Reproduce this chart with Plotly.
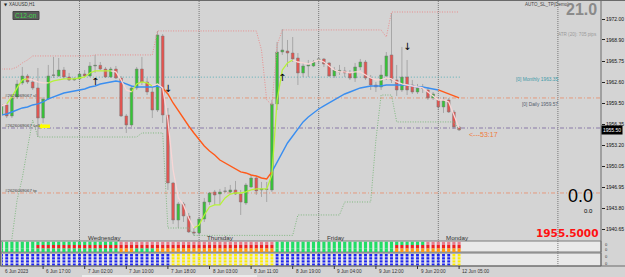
import plotly.graph_objects as go

# ---------------- data ----------------
time_labels = ["6 Jun 2023", "6 Jun 17:00", "7 Jun 02:00", "7 Jun 10:00", "7 Jun 18:00",
               "8 Jun 03:00", "8 Jun 11:00", "8 Jun 19:00", "9 Jun 04:00", "9 Jun 12:00",
               "9 Jun 20:00", "12 Jun 05:00"]
time_label_bars = [0, 8, 16, 24, 32, 40, 48, 56, 64, 72, 80, 88]
day_names = ["Wednesday", "Thursday", "Friday", "Monday"]
day_start_bars = [15, 38, 61, 84, 107]

opens = [1957.72, 1959.21, 1957.57, 1960.40, 1962.48, 1963.52, 1962.63, 1961.74, 1957.27, 1960.10,
         1963.60, 1963.52, 1964.41, 1963.37, 1962.93, 1963.08, 1963.82, 1963.52, 1965.01, 1965.10,
         1964.56, 1963.37, 1964.56, 1963.22, 1957.57, 1956.23, 1961.74, 1964.56, 1962.63, 1961.14,
         1958.46, 1969.47, 1957.72, 1947.60, 1942.09, 1944.48, 1942.69, 1940.31, 1940.16, 1942.24,
         1944.77, 1946.26, 1945.96, 1946.41, 1946.26, 1946.56, 1945.96, 1944.62, 1947.00, 1948.34,
         1946.56, 1946.71, 1946.56, 1959.36, 1967.09, 1967.24, 1966.94, 1966.20, 1963.97, 1965.01,
         1965.01, 1965.95, 1966.05, 1965.46, 1963.52, 1964.12, 1964.27, 1963.97, 1963.22, 1964.86,
         1965.60, 1963.22, 1962.18, 1961.88, 1963.52, 1966.65, 1962.93, 1961.44, 1963.37, 1962.18,
         1961.14, 1961.74, 1961.44, 1960.25, 1959.95, 1958.91, 1959.95, 1958.16, 1955.93]
highs = [1959.80, 1959.50, 1960.69, 1962.93, 1964.86, 1963.82, 1963.22, 1964.71, 1960.40, 1965.16,
         1966.35, 1966.20, 1964.86, 1963.97, 1963.37, 1964.12, 1964.41, 1965.60, 1966.65, 1965.60,
         1964.86, 1964.86, 1965.01, 1963.52, 1957.87, 1962.03, 1964.86, 1966.35, 1963.22, 1961.88,
         1970.22, 1969.77, 1958.76, 1947.75, 1944.77, 1944.77, 1943.14, 1941.05, 1942.54, 1945.37,
         1946.26, 1946.56, 1946.71, 1947.00, 1947.30, 1947.90, 1946.56, 1947.60, 1948.79, 1948.64,
         1947.75, 1947.75, 1959.95, 1968.58, 1970.51, 1968.88, 1969.32, 1966.94, 1965.46, 1965.90,
         1965.90, 1966.20, 1966.20, 1965.60, 1964.86, 1965.16, 1964.86, 1964.41, 1965.46, 1966.05,
         1965.90, 1963.67, 1962.63, 1965.16, 1967.09, 1972.90, 1965.16, 1967.84, 1965.90, 1962.93,
         1962.33, 1962.33, 1961.88, 1961.14, 1960.25, 1960.40, 1960.25, 1958.46, 1956.08]
lows = [1957.27, 1957.27, 1957.27, 1960.10, 1962.18, 1962.33, 1961.44, 1954.44, 1956.53, 1959.95,
        1963.22, 1963.37, 1963.08, 1962.78, 1962.78, 1962.93, 1963.37, 1963.37, 1963.97, 1964.41,
        1963.22, 1963.22, 1963.08, 1957.42, 1955.04, 1955.93, 1961.44, 1962.18, 1960.69, 1957.27,
        1958.16, 1956.53, 1946.56, 1941.50, 1940.90, 1941.80, 1940.16, 1939.71, 1939.86, 1941.80,
        1944.33, 1944.33, 1944.33, 1946.11, 1946.11, 1945.81, 1942.84, 1944.33, 1946.86, 1945.81,
        1945.52, 1944.77, 1946.26, 1958.46, 1966.65, 1964.86, 1965.60, 1962.18, 1963.37, 1963.37,
        1964.86, 1965.46, 1964.86, 1963.37, 1963.22, 1963.67, 1963.37, 1962.93, 1962.63, 1964.41,
        1962.93, 1961.44, 1961.14, 1961.44, 1962.93, 1962.48, 1960.55, 1961.14, 1960.69, 1960.84,
        1960.84, 1960.99, 1959.95, 1959.95, 1958.46, 1958.02, 1958.02, 1955.64, 1955.34]
closes = [1959.21, 1957.57, 1960.25, 1962.33, 1963.52, 1962.63, 1961.74, 1957.27, 1960.10, 1963.52,
          1963.67, 1964.41, 1963.37, 1962.93, 1963.08, 1963.82, 1963.52, 1965.01, 1965.10, 1964.56,
          1963.37, 1964.56, 1963.22, 1957.57, 1956.23, 1961.74, 1964.56, 1962.63, 1961.14, 1958.46,
          1969.62, 1957.72, 1947.60, 1942.09, 1944.48, 1942.69, 1940.31, 1940.16, 1942.24, 1944.77,
          1946.11, 1945.81, 1946.26, 1946.35, 1946.56, 1945.96, 1944.77, 1947.30, 1948.34, 1946.41,
          1946.71, 1946.65, 1959.36, 1967.09, 1967.39, 1966.94, 1966.05, 1963.97, 1965.01, 1965.16,
          1965.60, 1966.05, 1965.31, 1963.52, 1964.41, 1964.35, 1963.97, 1963.22, 1964.86, 1965.60,
          1963.22, 1962.18, 1961.88, 1963.67, 1966.50, 1962.93, 1961.44, 1963.37, 1961.44, 1961.14,
          1961.74, 1961.70, 1960.25, 1960.84, 1958.91, 1959.95, 1958.16, 1955.93, 1955.50]

ma_slow = [1957.72, 1957.87, 1958.16, 1958.46, 1958.76, 1958.91, 1959.21, 1959.36, 1959.65, 1960.10,
           1960.40, 1960.69, 1960.99, 1961.14, 1961.29, 1961.44, 1961.59, 1961.88, 1962.03, 1962.33,
           1962.48, 1962.63, 1962.78, 1962.63, 1962.33, 1962.03, 1961.88, 1961.88, 1961.88, 1961.88,
           1962.03, 1961.74, 1960.84, 1959.50, 1958.31, 1957.12, 1956.08, 1955.04, 1954.00, 1953.10,
           1952.36, 1951.77, 1951.02, 1950.57, 1950.13, 1949.68, 1949.24, 1949.09, 1948.79, 1948.64,
           1948.34, 1948.19, 1949.24, 1950.72, 1952.21, 1953.55, 1954.59, 1955.64, 1956.68, 1957.42,
           1958.02, 1958.61, 1959.06, 1959.50, 1959.95, 1960.40, 1960.84, 1961.14, 1961.44, 1961.74,
           1961.88, 1962.03, 1962.03, 1962.03, 1962.18, 1962.18, 1962.18, 1962.18, 1962.18, 1962.03,
           1961.88, 1961.88, 1961.74, 1961.59, 1961.44, 1961.14, 1960.84, 1960.55, 1960.25]
ma_slow_dir = ["up"] * 32 + ["dn"] * 21 + ["up"] * 32 + ["dn"] * 4

ma_fast = [1959.06, 1959.36, 1960.40, 1961.74, 1962.93, 1963.08, 1962.93, 1962.63, 1962.48, 1962.48,
           1962.78, 1962.93, 1963.08, 1963.08, 1963.08, 1963.22, 1963.37, 1963.97, 1964.27, 1964.27,
           1964.27, 1964.27, 1964.12, 1962.93, 1961.44, 1961.14, 1962.33, 1962.63, 1962.48, 1962.03,
           1962.33, 1961.74, 1956.97, 1949.53, 1945.37, 1944.33, 1942.39, 1940.90, 1941.35, 1942.84,
           1944.03, 1944.33, 1944.33, 1945.37, 1945.96, 1946.11, 1946.11, 1946.26, 1946.56, 1946.71,
           1946.71, 1946.71, 1948.79, 1959.95, 1964.41, 1965.46, 1965.90, 1965.60, 1965.46, 1965.31,
           1965.60, 1965.90, 1965.60, 1965.01, 1964.41, 1964.12, 1964.12, 1963.97, 1964.12, 1964.12,
           1963.67, 1963.22, 1962.93, 1962.93, 1963.22, 1963.08, 1962.63, 1962.33, 1962.18, 1962.03,
           1961.88, 1961.74, 1961.14, 1960.55, 1959.95, 1959.95, 1959.65, 1957.72, 1955.78]
ma_fast_dir = (["dn"] * 2 + ["up"] * 4 + ["dn"] * 4 + ["up"] * 12 + ["dn"] * 4 + ["up"] * 4
               + ["dn"] * 8 + ["up"] * 19 + ["dn"] * 32)

band_up = ([1964.56] * 3 + [1964.86, 1965.46, 1965.90] + [1966.50] * 12 + [1966.65] * 12
           + [1970.22] * 20 + [1967.39, 1959.95, 1959.21, 1968.13] + [1970.37] * 20
           + [1969.32] + [1973.04] * 14)
band_dn = ([1932.00, 1935.50, 1939.30, 1945.07, 1948.34, 1952.80, 1956.97] + [1954.44] * 20
           + [1955.04] * 5 + [1940.90] * 5 + [1939.80] * 20 + [1942.84] * 9 + [1944.77] * 6
           + [1953.99] + [1960.69] * 3 + [1956.68] * 12 + [1955.49])

panel1_state = (["GGG"] * 7 + ["GRG"] * 16 + ["PRO"] * 3 + ["PRG"] * 4 + ["PRO"] * 23
                + ["GGG"] * 23 + ["GRO"] * 6 + ["PRO"] * 7)
panel2_state = ["B"] * 33 + ["Y"] * 20 + ["B"] * 34 + ["Y"] * 2

signal_bars = [18, 32, 54, 78]
signal_prices = [1962.48, 1961.44, 1963.08, 1967.69]
signal_dirs = ["up", "dn", "up", "dn"]

level_sl, level_sell, level_tp = 1960.25, 1955.78, 1946.11
level_monthly, level_daily = 1963.35, 1959.57
price_ticks = [1972.00, 1968.90, 1965.75, 1962.60, 1959.50, 1956.35, 1953.20,
               1950.05, 1946.95, 1943.80, 1940.65]
last_price = 1955.50

# ---------------- layout geometry ----------------
W, H = 625, 277
ML, MR, MT, MB = 2, 24, 2, 11
PW, PH = W - ML - MR, H - MT - MB
BAR_PX = 5.2
X0 = -(1.5 - ML) / BAR_PX
X1 = X0 + PW / BAR_PX
PX_PER_UNIT = 6.72
Y_TOP = 1972.0 + (19 - 2) / PX_PER_UNIT
Y_BOT = 1972.0 - (240.5 - 19) / PX_PER_UNIT


def fx(px):
    return (px - ML) / PW


def fy(py):
    return 1 - (py - MT) / PH


FONT = "Liberation Sans, Arial, sans-serif"
n = len(opens)
idx = list(range(n))

fig = go.Figure()

# candles
fig.add_trace(go.Candlestick(
    x=idx, open=opens, high=highs, low=lows, close=closes,
    increasing=dict(fillcolor="#36c436", line=dict(color="#7a7a7a", width=0.5)),
    decreasing=dict(fillcolor="#e5534f", line=dict(color="#7a7a7a", width=0.5)),
    whiskerwidth=0, showlegend=False, hoverinfo="skip", xaxis="x", yaxis="y"))


def seg(vals, dirs, key):
    xs, ys = [], []
    last = None
    for i in range(1, len(vals)):
        if dirs[i] == key:
            if last != i - 1:
                if xs:
                    xs.append(None); ys.append(None)
                xs.append(i - 1); ys.append(vals[i - 1])
            xs.append(i); ys.append(vals[i])
            last = i
    return xs, ys


# bands (dotted)
fig.add_trace(go.Scatter(x=idx, y=band_up, mode="lines", showlegend=False, hoverinfo="skip",
                         line=dict(color="#e88e8e", width=1, dash="1px,1.5px")))
fig.add_trace(go.Scatter(x=idx, y=band_dn, mode="lines", showlegend=False, hoverinfo="skip",
                         line=dict(color="#80b880", width=1, dash="1px,1.5px")))

# slow MA
for key, col in (("up", "#3a8ef0"), ("dn", "#ff5a1a")):
    xs, ys = seg(ma_slow, ma_slow_dir, key)
    fig.add_trace(go.Scatter(x=xs, y=ys, mode="lines", showlegend=False, hoverinfo="skip",
                             line=dict(color=col, width=1.4)))
# fast MA
for key, col in (("up", "#b6f23a"), ("dn", "#f8d6d6")):
    xs, ys = seg(ma_fast, ma_fast_dir, key)
    fig.add_trace(go.Scatter(x=xs, y=ys, mode="lines", showlegend=False, hoverinfo="skip",
                             line=dict(color=col, width=1.3)))

# signals
fig.add_trace(go.Scatter(
    x=signal_bars, y=signal_prices, mode="text",
    text=["↑" if d == "up" else "↓" for d in signal_dirs],
    textfont=dict(size=10, color="#000", family="DejaVu Sans"),
    showlegend=False, hoverinfo="skip"))

# indicator panel 1
cmap1 = {"G": "#22dd66", "R": "#ee2020", "P": "#e87c8c", "O": "#ff9a10"}
for r in range(3):
    fig.add_trace(go.Bar(
        x=idx, y=[1] * n, base=[2 - r] * n, width=0.6,
        marker=dict(color=[cmap1[s[r]] for s in panel1_state], line=dict(width=0)),
        showlegend=False, hoverinfo="skip", xaxis="x2", yaxis="y2"))
# indicator panel 2
cmap2 = {"B": "#1c24f0", "Y": "#ffee00"}
for r in range(4):
    fig.add_trace(go.Bar(
        x=idx, y=[0.62] * n, base=[r + 0.19] * n, width=0.55,
        marker=dict(color=[cmap2[s] for s in panel2_state], line=dict(width=0)),
        showlegend=False, hoverinfo="skip", xaxis="x3", yaxis="y3"))

shapes = []
# panel backgrounds / borders
for (t, b) in ((241, 252), (253, 266)):
    shapes.append(dict(type="rect", xref="paper", yref="paper", x0=fx(1), x1=fx(601),
                       y0=fy(b), y1=fy(t), fillcolor="#e9e9e9",
                       line=dict(color="#7a7a7a", width=1), layer="below"))
# outer frame lines
shapes.append(dict(type="line", xref="paper", yref="paper", x0=fx(0), x1=fx(625), y0=fy(0.5), y1=fy(0.5),
                   line=dict(color="#6a6a6a", width=1)))
shapes.append(dict(type="line", xref="paper", yref="paper", x0=fx(0.5), x1=fx(0.5), y0=fy(266), y1=fy(0),
                   line=dict(color="#6a6a6a", width=1)))
shapes.append(dict(type="line", xref="paper", yref="paper", x0=fx(601), x1=fx(601), y0=fy(266), y1=fy(0),
                   line=dict(color="#6a6a6a", width=1)))
shapes.append(dict(type="line", xref="paper", yref="paper", x0=fx(0), x1=fx(625), y0=fy(266), y1=fy(266),
                   line=dict(color="#6a6a6a", width=1)))
shapes.append(dict(type="rect", xref="paper", yref="paper", x0=fx(82), x1=fx(257), y0=fy(277), y1=fy(275),
                   fillcolor="#ececec", line=dict(width=0)))
# day separators
for b in day_start_bars:
    shapes.append(dict(type="line", xref="x", yref="paper", x0=b, x1=b, y0=fy(266), y1=fy(1),
                       line=dict(color="#777", width=1, dash="1px,1px"), layer="below"))
# levels
shapes.append(dict(type="line", xref="x", yref="y", x0=X0 - 1, x1=88.5, y0=level_monthly, y1=level_monthly,
                   line=dict(color="#5ab0b8", width=1, dash="1px,2px"), layer="below"))
for lv, col in ((level_sl, "#e59a7e"), (level_tp, "#e59a7e"), (level_sell, "#8a7aa8")):
    shapes.append(dict(type="line", xref="paper", yref="y", x0=0, x1=1, y0=lv, y1=lv,
                       line=dict(color=col, width=1, dash="4px,2px,1px,2px"), layer="below"))
# time axis ticks
for b in time_label_bars:
    shapes.append(dict(type="line", xref="x", yref="paper", x0=b, x1=b, y0=fy(269), y1=fy(266),
                       line=dict(color="#333", width=1)))
# yellow marker at the sell line
shapes.append(dict(type="rect", xref="paper", yref="paper", x0=fx(41), x1=fx(50), y0=fy(128), y1=fy(124.5),
                   fillcolor="#ffff00", line=dict(width=0)))
shapes.append(dict(type="path", xref="paper", yref="paper",
                   path=f"M {fx(38)} {fy(126.3)} L {fx(42)} {fy(123.5)} L {fx(42)} {fy(129)} Z",
                   fillcolor="#ffff00", line=dict(width=0)))
# C12-on box
shapes.append(dict(type="rect", xref="paper", yref="paper", x0=fx(13), x1=fx(39), y0=fy(19.5), y1=fy(11.5),
                   fillcolor="#5a5a5a", line=dict(color="#444", width=1)))

ann = []


def txt(px, py, s, size, color="#333", anchor="left", family=FONT, bold=False, bg=None):
    d = dict(xref="paper", yref="paper", x=fx(px), y=fy(py), text=(f"<b>{s}</b>" if bold else s),
             showarrow=False, xanchor=anchor, yanchor="middle",
             font=dict(size=size, color=color, family=family))
    if bg:
        d["bgcolor"] = bg
        d["borderpad"] = 0
    ann.append(d)


txt(2, 4.5, "▼", 4, "#222", family="DejaVu Sans")
txt(7, 4.5, "XAUUSD,H1", 4.5, "#333")
txt(26, 15.5, "C12-on", 6.5, "#3fd34a", anchor="center")
txt(571, 5, "AUTO_SL_TP(Demo)", 4.5, "#444", anchor="right")
txt(599, 10, "21.0", 16, "#8a8a8a", anchor="right", bold=True)
txt(599, 34.5, "ATR (20): 705 pips", 4.6, "#9a9a9a", anchor="right")
txt(560, 79.5, f"[0] Monthly {level_monthly:.2f}", 4.8, "#3d9aa8", anchor="right")
txt(560, 104, f"[0] Daily {level_daily:.2f}", 4.8, "#55606e", anchor="right")
txt(3, 95.5, "#2626069067 sl", 4.4, "#444")
txt(3, 125.5, "#2626069067 sell", 4.4, "#444")
txt(3, 190.5, "#2626069067 tp", 4.4, "#444")
txt(467, 134.5, "<---53:17", 7, "#f07a3a")
txt(580, 196, "0.0", 18, "#000", anchor="center")
txt(588, 210.5, "0.0", 6, "#000", anchor="center")
txt(600, 233, f"{last_price:.4f}", 10.5, "#ff1010", anchor="right", family="DejaVu Sans", bold=True)
for name, b in zip(day_names, day_start_bars):
    txt(2 + (b - X0) * BAR_PX + 6, 237.5, name, 6.2, "#333")
for lab, b in zip(time_labels, time_label_bars):
    txt(2 + (b - X0) * BAR_PX + 1, 271, lab, 4.7, "#333")
# current price box
ann.append(dict(xref="paper", yref="y", x=fx(601), y=last_price, text=f"{last_price:.2f}",
                showarrow=False, xanchor="left", yanchor="middle", bgcolor="#000", borderpad=1,
                font=dict(size=5, color="#fff", family=FONT)))
for py in (244, 249, 256.5, 263):
    txt(603, py, "0", 4, "#333")

fig.update_layout(
    width=W, height=H, margin=dict(l=ML, r=MR, t=MT, b=MB),
    paper_bgcolor="#d4d4d4", plot_bgcolor="rgba(0,0,0,0)",
    barmode="overlay", boxgap=0.25, showlegend=False,
    shapes=shapes, annotations=ann,
    xaxis=dict(domain=[0, 1], range=[X0, X1], visible=False, anchor="y",
               rangeslider=dict(visible=False), fixedrange=True),
    xaxis2=dict(domain=[0, 1], range=[X0, X1], visible=False, anchor="y2", matches="x"),
    xaxis3=dict(domain=[0, 1], range=[X0, X1], visible=False, anchor="y3", matches="x"),
    yaxis=dict(domain=[fy(240.5), 1], range=[Y_BOT, Y_TOP], side="right", anchor="x",
               tickvals=price_ticks, ticktext=[f"{v:.2f}" for v in price_ticks],
               ticks="outside", ticklen=3, tickcolor="#222", tickwidth=1,
               tickfont=dict(size=5, color="#111", family=FONT),
               showgrid=False, zeroline=False, showline=False),
    yaxis2=dict(domain=[fy(252), fy(241.5)], range=[0, 3], visible=False, anchor="x2"),
    yaxis3=dict(domain=[0, fy(253.5)], range=[0, 4], visible=False, anchor="x3"),
)

fig.write_html("out.html")
